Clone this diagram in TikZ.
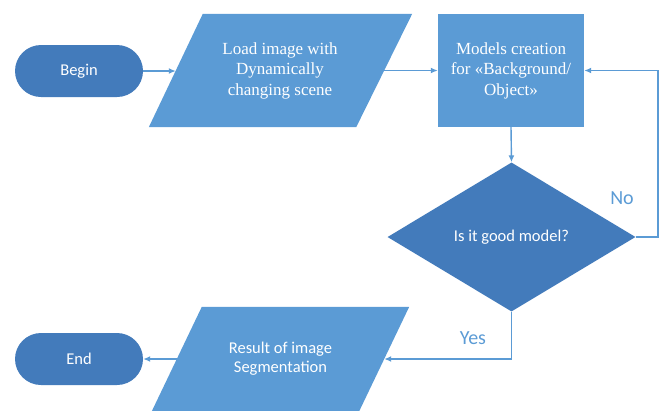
\documentclass[tikz,border=0pt]{standalone}
\usepackage{fontspec}
\setmainfont{Liberation Serif}
\newfontfamily\serfont{Liberation Serif}
\newfontfamily\calfont{Carlito}
\usetikzlibrary{arrows.meta,shapes.geometric,backgrounds}
\definecolor{lightb}{HTML}{5B9BD5}
\definecolor{darkb}{HTML}{437BBB}
\definecolor{lineb}{HTML}{5B9BD5}
\begin{document}
\begin{tikzpicture}[x=1pt,y=-1pt,
  conn/.style={draw=lineb, line width=1.4pt, -{Latex[length=7pt,width=6pt]}},
  term/.style={fill=darkb, rounded corners=26pt, minimum width=128pt, minimum height=52pt,
    inner sep=0pt, text=white, font=\calfont\fontsize{16.5}{19}\selectfont},
  para/.style={inner sep=0pt, text=white, align=center},
  serifbig/.style={font=\serfont\fontsize{17}{20.5}\selectfont},
  sansbig/.style={font=\calfont\fontsize{16.5}{19}\selectfont},
  answer/.style={text=lineb, font=\calfont\fontsize{20}{24}\selectfont, inner sep=0pt}
]
\useasboundingbox (0,0) rectangle (660,410);

\node[term] (begin) at (79,71) {Begin};
\node[para, serifbig, minimum width=208pt, minimum height=113pt] (load) at (280,70.5)
  {Load image with\\Dynamically\\changing scene};
\node[para, serifbig, fill=lightb, minimum width=146pt, minimum height=113pt] (box) at (511,70.5)
  {Models creation\\for «Background/\\Object»};
\node[diamond, fill=darkb, minimum width=248pt, minimum height=149pt, inner sep=0pt,
  text=white, sansbig] (dec) at (511.5,237) {Is it good model?};
\node[para, sansbig, minimum width=207pt, minimum height=104pt] (res) at (280.5,359)
  {Result of image\\Segmentation};
\node[term] (endn) at (79,359) {End};

\begin{pgfonlayer}{background}
  \fill[lightb] ([xshift=27pt]load.north west) -- ([xshift=28pt]load.north east)
    -- ([xshift=-28pt]load.south east) -- ([xshift=-27pt]load.south west) -- cycle;
  \fill[lightb] ([xshift=25pt]res.north west) -- ([xshift=25pt]res.north east)
    -- ([xshift=-25pt]res.south east) -- ([xshift=-25pt]res.south west) -- cycle;
\end{pgfonlayer}

\coordinate (loopR) at (658,237);
\node[answer] (no) at (622,198) {No};
\node[answer] (yes) at (473,338) {Yes};

\draw[conn] (begin.east) -- (begin.east -| load.west);
\draw[conn] (load.east) -- (load.east -| box.west);
\draw[conn] (box.south) -- (dec.north);
\draw[conn] (dec.east) -- (loopR) |- (box.east);
\draw[conn] (dec.south) |- (res.east);
\draw[conn] (res.west) -- (res.west -| endn.east);
\end{tikzpicture}
\end{document}
